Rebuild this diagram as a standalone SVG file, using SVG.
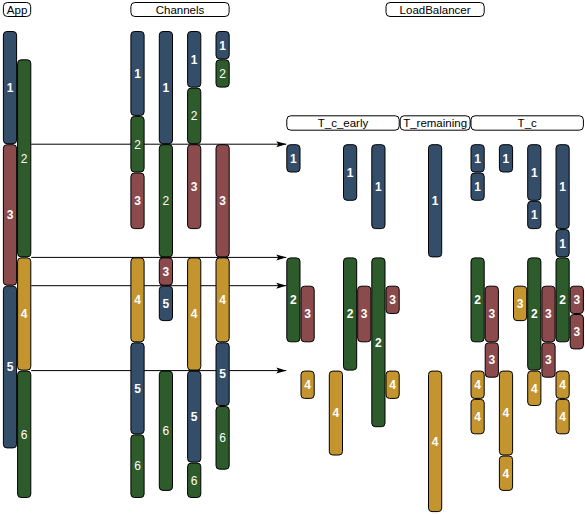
<svg xmlns="http://www.w3.org/2000/svg" width="585" height="514" viewBox="0 0 585 514">
<style>
.bar{stroke:#000;stroke-width:1}
.b{fill:#344e6a}.g{fill:#2e5b2b}.r{fill:#8b4a4c}.o{fill:#c4952f}
text{font-family:"Liberation Sans",Arial,sans-serif}
.l{font-size:12px;fill:#fff;text-anchor:middle;font-weight:bold}
.n{font-weight:normal}
.hb{fill:#fff;stroke:#000;stroke-width:1}
.ht{font-size:11.5px;fill:#000;text-anchor:middle}
.ar{stroke:#000;stroke-width:1;fill:none;marker-end:url(#ah)}
</style>
<defs>
<marker id="ah" markerUnits="userSpaceOnUse" markerWidth="10" markerHeight="7" refX="10" refY="3.5" orient="auto">
<path d="M0,0.5 L10,3.5 L0,6.5 L2,3.5 Z" fill="#000"/>
</marker>
</defs>
<rect width="585" height="514" fill="#fff"/>
<g id="headers">
<g id="h-app"><rect class="hb" x="3.4" y="2.5" width="27.3" height="14" rx="4"/><text class="ht" x="17.1" y="13.6">App</text></g>
<g id="h-channels"><rect class="hb" x="130.9" y="2.5" width="98.2" height="14" rx="4"/><text class="ht" x="180" y="13.6">Channels</text></g>
<g id="h-lb"><rect class="hb" x="386" y="2.5" width="98.2" height="14" rx="4"/><text class="ht" x="435.1" y="13.6">LoadBalancer</text></g>
<g id="h-tce"><rect class="hb" x="286.8" y="115.8" width="112.4" height="14.4" rx="4"/><text class="ht" x="343" y="127.1">T_c_early</text></g>
<g id="h-trem"><rect class="hb" x="400.2" y="115.8" width="69.9" height="14.4" rx="4"/><text class="ht" x="435.1" y="127.1">T_remaining</text></g>
<g id="h-tc"><rect class="hb" x="471" y="115.8" width="112.4" height="14.4" rx="4"/><text class="ht" x="527.2" y="127.1">T_c</text></g>
</g>
<g id="connectors">
<line class="ar" x1="31.2" y1="144.2" x2="286.3" y2="144.2"/>
<line class="ar" x1="31.2" y1="257.4" x2="286.3" y2="257.4"/>
<line class="ar" x1="31.2" y1="285.7" x2="286.3" y2="285.7"/>
<line class="ar" x1="31.2" y1="370.6" x2="286.3" y2="370.6"/>
</g>
<g id="app">
<g id="app-1"><rect class="bar b" x="3.4" y="31.5" width="13.2" height="112.2" rx="3.5"/><text class="l" x="10" y="91.9">1</text></g>
<g id="app-3"><rect class="bar r" x="3.4" y="144.7" width="13.2" height="140.5" rx="3.5"/><text class="l" x="10" y="219.3">3</text></g>
<g id="app-5"><rect class="bar b" x="3.4" y="286.2" width="13.2" height="161.7" rx="3.5"/><text class="l" x="10" y="371.4">5</text></g>
<g id="app-2"><rect class="bar g" x="17.6" y="59.8" width="13.2" height="197.1" rx="3.5"/><text class="l n" x="24.2" y="162.7">2</text></g>
<g id="app-4"><rect class="bar o" x="17.6" y="257.9" width="13.2" height="112.2" rx="3.5"/><text class="l" x="24.2" y="318.3">4</text></g>
<g id="app-6"><rect class="bar g" x="17.6" y="371.1" width="13.2" height="126.4" rx="3.5"/><text class="l n" x="24.2" y="438.6">6</text></g>
</g>
<g id="channels">
<g id="chA-1"><rect class="bar b" x="130.9" y="31.5" width="13.2" height="83.9" rx="3.5"/><text class="l" x="137.5" y="77.8">1</text></g>
<g id="chA-2"><rect class="bar g" x="130.9" y="116.4" width="13.2" height="55.6" rx="3.5"/><text class="l n" x="137.5" y="148.5">2</text></g>
<g id="chA-3"><rect class="bar r" x="130.9" y="173" width="13.2" height="55.6" rx="3.5"/><text class="l" x="137.5" y="205.1">3</text></g>
<g id="chA-4"><rect class="bar o" x="130.9" y="257.9" width="13.2" height="83.9" rx="3.5"/><text class="l" x="137.5" y="304.2">4</text></g>
<g id="chA-5"><rect class="bar b" x="130.9" y="342.8" width="13.2" height="91" rx="3.5"/><text class="l" x="137.5" y="392.6">5</text></g>
<g id="chA-6"><rect class="bar g" x="130.9" y="434.8" width="13.2" height="62.7" rx="3.5"/><text class="l n" x="137.5" y="470.4">6</text></g>
<g id="chB-1"><rect class="bar b" x="159.3" y="31.5" width="13.2" height="112.2" rx="3.5"/><text class="l" x="165.9" y="91.9">1</text></g>
<g id="chB-2"><rect class="bar g" x="159.3" y="144.7" width="13.2" height="112.2" rx="3.5"/><text class="l n" x="165.9" y="205.1">2</text></g>
<g id="chB-3"><rect class="bar r" x="159.3" y="257.9" width="13.2" height="27.3" rx="3.5"/><text class="l" x="165.9" y="275.9">3</text></g>
<g id="chB-5"><rect class="bar b" x="159.3" y="286.2" width="13.2" height="34.4" rx="3.5"/><text class="l" x="165.9" y="307.7">5</text></g>
<g id="chB-6"><rect class="bar g" x="159.3" y="371.1" width="13.2" height="119.3" rx="3.5"/><text class="l n" x="165.9" y="435">6</text></g>
<g id="chC-1"><rect class="bar b" x="187.6" y="31.5" width="13.2" height="55.6" rx="3.5"/><text class="l" x="194.2" y="63.6">1</text></g>
<g id="chC-2"><rect class="bar g" x="187.6" y="88.1" width="13.2" height="55.6" rx="3.5"/><text class="l n" x="194.2" y="120.2">2</text></g>
<g id="chC-3"><rect class="bar r" x="187.6" y="144.7" width="13.2" height="83.9" rx="3.5"/><text class="l" x="194.2" y="191">3</text></g>
<g id="chC-4"><rect class="bar o" x="187.6" y="257.9" width="13.2" height="112.2" rx="3.5"/><text class="l" x="194.2" y="318.3">4</text></g>
<g id="chC-5"><rect class="bar b" x="187.6" y="371.1" width="13.2" height="91" rx="3.5"/><text class="l" x="194.2" y="420.9">5</text></g>
<g id="chC-6"><rect class="bar g" x="187.6" y="463.1" width="13.2" height="34.4" rx="3.5"/><text class="l n" x="194.2" y="484.6">6</text></g>
<g id="chD-1"><rect class="bar b" x="216" y="31.5" width="13.2" height="27.3" rx="3.5"/><text class="l" x="222.5" y="49.5">1</text></g>
<g id="chD-2"><rect class="bar g" x="216" y="59.8" width="13.2" height="27.3" rx="3.5"/><text class="l n" x="222.5" y="77.8">2</text></g>
<g id="chD-3"><rect class="bar r" x="216" y="144.7" width="13.2" height="112.2" rx="3.5"/><text class="l" x="222.5" y="205.1">3</text></g>
<g id="chD-4"><rect class="bar o" x="216" y="257.9" width="13.2" height="83.9" rx="3.5"/><text class="l" x="222.5" y="304.2">4</text></g>
<g id="chD-5"><rect class="bar b" x="216" y="342.8" width="13.2" height="62.7" rx="3.5"/><text class="l" x="222.5" y="378.4">5</text></g>
<g id="chD-6"><rect class="bar g" x="216" y="406.5" width="13.2" height="62.7" rx="3.5"/><text class="l n" x="222.5" y="442.1">6</text></g>
</g>
<g id="loadbalancer">
<g id="lb-20-1"><rect class="bar b" x="286.8" y="144.7" width="13.2" height="27.3" rx="3.5"/><text class="l" x="293.4" y="162.7">1</text></g>
<g id="lb-20-2"><rect class="bar g" x="286.8" y="257.9" width="13.2" height="83.9" rx="3.5"/><text class="l" x="293.4" y="304.2">2</text></g>
<g id="lb-21-3"><rect class="bar r" x="301" y="286.2" width="13.2" height="55.6" rx="3.5"/><text class="l" x="307.6" y="318.3">3</text></g>
<g id="lb-21-4"><rect class="bar o" x="301" y="371.1" width="13.2" height="27.3" rx="3.5"/><text class="l" x="307.6" y="389.1">4</text></g>
<g id="lb-23-4"><rect class="bar o" x="329.3" y="371.1" width="13.2" height="83.9" rx="3.5"/><text class="l" x="335.9" y="417.4">4</text></g>
<g id="lb-24-1"><rect class="bar b" x="343.5" y="144.7" width="13.2" height="55.6" rx="3.5"/><text class="l" x="350.1" y="176.8">1</text></g>
<g id="lb-24-2"><rect class="bar g" x="343.5" y="257.9" width="13.2" height="112.2" rx="3.5"/><text class="l" x="350.1" y="318.3">2</text></g>
<g id="lb-25-3"><rect class="bar r" x="357.7" y="286.2" width="13.2" height="55.6" rx="3.5"/><text class="l" x="364.2" y="318.3">3</text></g>
<g id="lb-26-1"><rect class="bar b" x="371.8" y="144.7" width="13.2" height="83.9" rx="3.5"/><text class="l" x="378.4" y="191">1</text></g>
<g id="lb-26-2"><rect class="bar g" x="371.8" y="257.9" width="13.2" height="168.8" rx="3.5"/><text class="l" x="378.4" y="346.6">2</text></g>
<g id="lb-27-3"><rect class="bar r" x="386" y="286.2" width="13.2" height="27.3" rx="3.5"/><text class="l" x="392.6" y="304.2">3</text></g>
<g id="lb-27-4"><rect class="bar o" x="386" y="371.1" width="13.2" height="27.3" rx="3.5"/><text class="l" x="392.6" y="389.1">4</text></g>
<g id="lb-30-1"><rect class="bar b" x="428.5" y="144.7" width="13.2" height="112.2" rx="3.5"/><text class="l" x="435.1" y="205.1">1</text></g>
<g id="lb-30-4"><rect class="bar o" x="428.5" y="371.1" width="13.2" height="140.5" rx="3.5"/><text class="l" x="435.1" y="445.7">4</text></g>
<g id="lb-33-1a"><rect class="bar b" x="471" y="144.7" width="13.2" height="27.3" rx="3.5"/><text class="l" x="477.6" y="162.7">1</text></g>
<g id="lb-33-1b"><rect class="bar b" x="471" y="173" width="13.2" height="27.3" rx="3.5"/><text class="l" x="477.6" y="191">1</text></g>
<g id="lb-33-2"><rect class="bar g" x="471" y="257.9" width="13.2" height="83.9" rx="3.5"/><text class="l" x="477.6" y="304.2">2</text></g>
<g id="lb-33-4a"><rect class="bar o" x="471" y="371.1" width="13.2" height="27.3" rx="3.5"/><text class="l" x="477.6" y="389.1">4</text></g>
<g id="lb-33-4b"><rect class="bar o" x="471" y="399.4" width="13.2" height="34.4" rx="3.5"/><text class="l" x="477.6" y="420.9">4</text></g>
<g id="lb-34-3a"><rect class="bar r" x="485.2" y="286.2" width="13.2" height="55.6" rx="3.5"/><text class="l" x="491.8" y="318.3">3</text></g>
<g id="lb-34-3b"><rect class="bar r" x="485.2" y="342.8" width="13.2" height="34.4" rx="3.5"/><text class="l" x="491.8" y="364.3">3</text></g>
<g id="lb-35-1"><rect class="bar b" x="499.4" y="144.7" width="13.2" height="27.3" rx="3.5"/><text class="l" x="505.9" y="162.7">1</text></g>
<g id="lb-35-4a"><rect class="bar o" x="499.4" y="371.1" width="13.2" height="83.9" rx="3.5"/><text class="l" x="505.9" y="417.4">4</text></g>
<g id="lb-35-4b"><rect class="bar o" x="499.4" y="456" width="13.2" height="34.4" rx="3.5"/><text class="l" x="505.9" y="477.5">4</text></g>
<g id="lb-36-3"><rect class="bar o" x="513.5" y="286.2" width="13.2" height="34.4" rx="3.5"/><text class="l" x="520.1" y="307.7">3</text></g>
<g id="lb-37-1a"><rect class="bar b" x="527.7" y="144.7" width="13.2" height="55.6" rx="3.5"/><text class="l" x="534.3" y="176.8">1</text></g>
<g id="lb-37-1b"><rect class="bar b" x="527.7" y="201.3" width="13.2" height="27.3" rx="3.5"/><text class="l" x="534.3" y="219.3">1</text></g>
<g id="lb-37-2"><rect class="bar g" x="527.7" y="257.9" width="13.2" height="112.2" rx="3.5"/><text class="l" x="534.3" y="318.3">2</text></g>
<g id="lb-37-4"><rect class="bar o" x="527.7" y="371.1" width="13.2" height="34.4" rx="3.5"/><text class="l" x="534.3" y="392.6">4</text></g>
<g id="lb-38-3a"><rect class="bar r" x="541.9" y="286.2" width="13.2" height="55.6" rx="3.5"/><text class="l" x="548.4" y="318.3">3</text></g>
<g id="lb-38-3b"><rect class="bar r" x="541.9" y="342.8" width="13.2" height="34.4" rx="3.5"/><text class="l" x="548.4" y="364.3">3</text></g>
<g id="lb-39-1a"><rect class="bar b" x="556" y="144.7" width="13.2" height="83.9" rx="3.5"/><text class="l" x="562.6" y="191">1</text></g>
<g id="lb-39-1b"><rect class="bar b" x="556" y="229.6" width="13.2" height="27.3" rx="3.5"/><text class="l" x="562.6" y="247.6">1</text></g>
<g id="lb-39-2"><rect class="bar g" x="556" y="257.9" width="13.2" height="83.9" rx="3.5"/><text class="l" x="562.6" y="304.2">2</text></g>
<g id="lb-39-4a"><rect class="bar o" x="556" y="371.1" width="13.2" height="27.3" rx="3.5"/><text class="l" x="562.6" y="389.1">4</text></g>
<g id="lb-39-4b"><rect class="bar o" x="556" y="399.4" width="13.2" height="34.4" rx="3.5"/><text class="l" x="562.6" y="420.9">4</text></g>
<g id="lb-40-3a"><rect class="bar r" x="570.2" y="286.2" width="13.2" height="27.3" rx="3.5"/><text class="l" x="576.8" y="304.2">3</text></g>
<g id="lb-40-3b"><rect class="bar r" x="570.2" y="314.5" width="13.2" height="34.4" rx="3.5"/><text class="l" x="576.8" y="336">3</text></g>
</g>
</svg>
